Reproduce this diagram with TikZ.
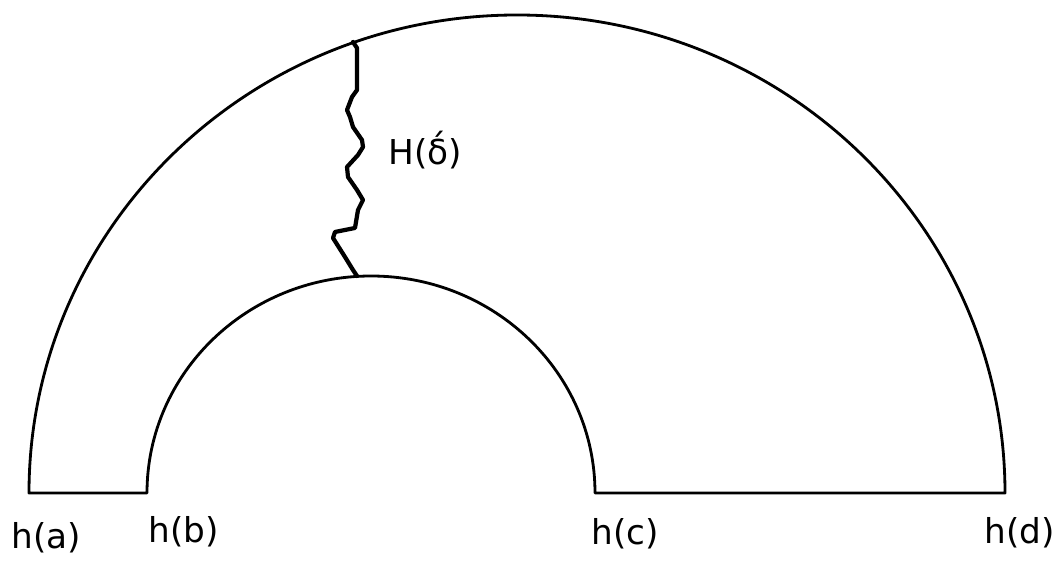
\documentclass[tikz,border=0pt]{standalone}
\usepackage{fontspec}
\setmainfont{DejaVu Sans}
\usetikzlibrary{positioning}

\begin{document}
\begin{tikzpicture}[
    x=0.02cm, y=0.02cm,
    rim/.style={draw, line width=1.6pt, line join=round},
    crack/.style={draw, line width=2.4pt, line join=round, line cap=round},
    lbl/.style={font=\fontsize{19.5}{22}\selectfont, inner sep=0pt},
]
\useasboundingbox (0,0) rectangle (1062,561);

% half ring
\draw[rim] (29,68) arc[start angle=180, end angle=0, x radius=488, y radius=478]
    -- (595,68) arc[start angle=0, end angle=180, x radius=224, y radius=217]
    -- cycle;

% ends of the jagged line on the two arcs
\coordinate (top) at (353,519);
\coordinate (bot) at (357,285);

\draw[crack] (top) -- (357,513) -- (357,471) -- (352,464) -- (347,451)
    -- (350,444) -- (353,434) -- (362,421) -- (363,414) -- (358,406)
    -- (347,394) -- (348,384) -- (357,371) -- (363,361) -- (358,351)
    -- (355,333) -- (335,329) -- (333,323) -- (345,304) -- (353,291)
    -- (bot);

\node[lbl] (hd) at (425,411) {H(δ́)};

\node[lbl] (ha) at (46,23) {h(a)};
\node[lbl] (hb) at (184,29) {h(b)};
\node[lbl] (hc) at (625,27) {h(c)};
\node[lbl] (hdd) at (1020,28) {h(d)};

\end{tikzpicture}
\end{document}
